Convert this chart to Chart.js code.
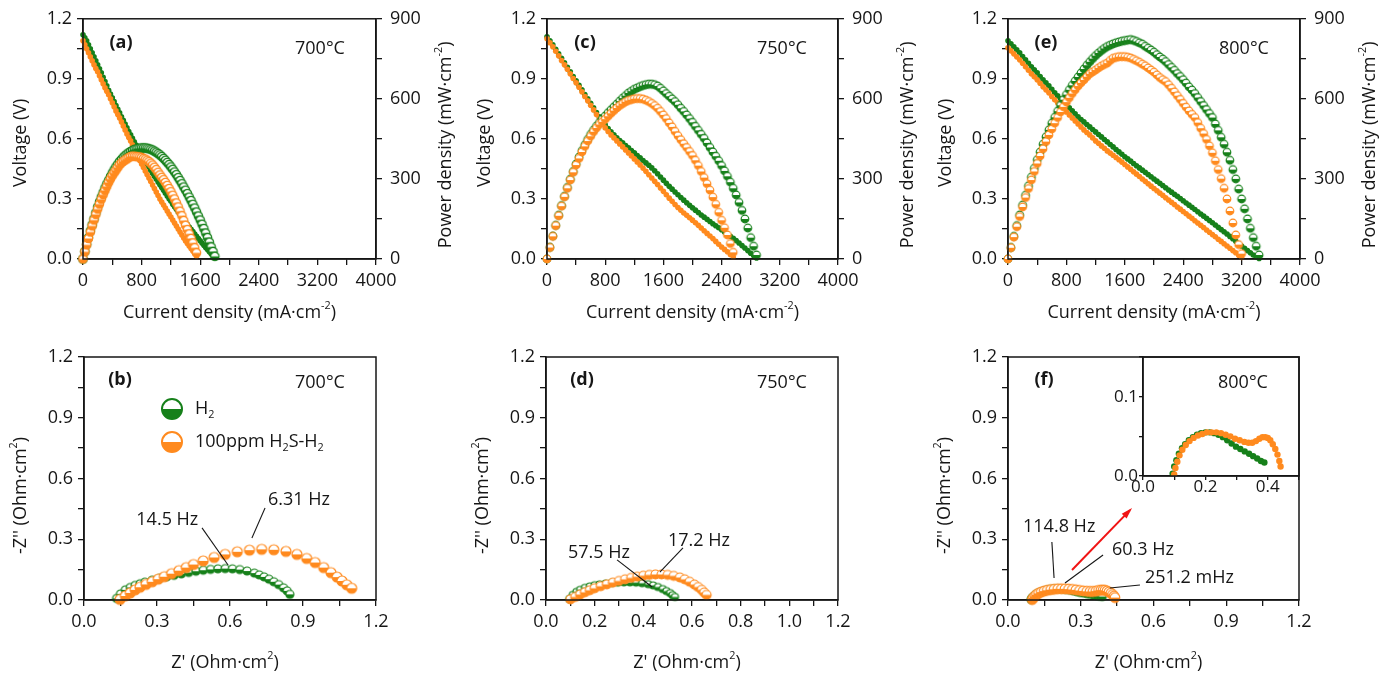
<!DOCTYPE html>
<html>
<head>
<meta charset="utf-8">
<script src="https://cdn.jsdelivr.net/npm/chart.js@4.4.1/dist/chart.umd.min.js"></script>
<style>
html,body{margin:0;padding:0;background:#fff;}
#page{position:relative;width:1396px;height:678px;overflow:hidden;background:#fff;}
canvas{position:absolute;}
</style>
</head>
<body>
<div id="page">
<canvas id="pa"></canvas>
<canvas id="pc"></canvas>
<canvas id="pe"></canvas>
<canvas id="pb"></canvas>
<canvas id="pd"></canvas>
<canvas id="pf"></canvas>
<canvas id="pfi"></canvas>
</div>
<script>
// ===== data: I-V-P curves (current mA/cm2, voltage V, power mW/cm2) =====
// 700 C
let cur700 = [
  0,25,50,75,100,125,150,175,200,225,
  250,275,300,325,350,375,400,425,450,475,
  500,525,550,575,600,625,650,675,700,725,
  750,775,800,825,850,875,900,925,950,975,
  1000,1025,1050,1075,1100,1125,1150,1175,1200,1225,
  1250,1275,1300,1325,1350,1375,1400,1425,1450,1475,
  1500,1525,1550,1575,1600,1625,1650,1675,1700,1725,
  1750,1775,1800];
let v700H2 = [
  1.12,1.105,1.09,1.07,1.05,1.03,1.01,0.99,0.97,0.95,
  0.93,0.908,0.887,0.865,0.843,0.824,0.805,0.786,0.767,0.748,
  0.73,0.711,0.693,0.674,0.655,0.637,0.62,0.603,0.586,0.569,
  0.552,0.536,0.52,0.504,0.489,0.474,0.459,0.444,0.429,0.414,
  0.40,0.385,0.371,0.357,0.343,0.329,0.315,0.301,0.288,0.274,
  0.261,0.248,0.235,0.222,0.209,0.196,0.184,0.172,0.16,0.148,
  0.137,0.125,0.114,0.102,0.091,0.08,0.069,0.058,0.047,0.036,
  0.026,0.016,0.006];
let p700H2 = [
  0,28,55,80,105,128,150,173,195,214,
  232,249,266,281,295,309,322,334,345,355,
  365,373,381,387,393,398,403,407,410,412,
  414,415,416,416,416,415,413,411,408,404,
  400,395,390,384,377,370,362,354,345,336,
  326,316,305,294,282,270,258,245,232,219,
  205,191,176,161,146,130,114,97,80,63,
  45,28,10];
let v700S = [
  1.09,1.07,1.05,1.03,1.01,0.99,0.97,0.952,0.935,0.915,
  0.895,0.875,0.855,0.838,0.82,0.80,0.78,0.76,0.74,0.722,
  0.705,0.685,0.665,0.645,0.625,0.607,0.59,0.57,0.55,0.53,
  0.51,0.492,0.475,0.457,0.44,0.422,0.405,0.387,0.37,0.352,
  0.335,0.317,0.30,0.285,0.27,0.255,0.24,0.225,0.21,0.195,
  0.18,0.165,0.15,0.135,0.12,0.105,0.09,0.077,0.065,0.052,
  0.04,0.027,0.015];
let p700S = [
  0,27,53,77,101,124,146,167,187,206,
  224,241,257,272,287,300,312,323,333,343,
  353,360,366,371,375,380,384,385,385,384,
  383,382,380,377,374,370,365,359,352,344,
  335,325,315,306,297,287,276,264,252,239,
  225,210,195,179,162,144,126,110,94,77,
  60,42,23];

// 750 C
let cur750 = [
  0,40,80,120,160,200,240,280,320,360,
  400,440,480,520,560,600,640,680,720,760,
  800,840,880,920,960,1000,1040,1080,1120,1160,
  1200,1240,1280,1320,1360,1400,1440,1480,1520,1560,
  1600,1640,1680,1720,1760,1800,1840,1880,1920,1960,
  2000,2040,2080,2120,2160,2200,2240,2280,2320,2360,
  2400,2440,2480,2520,2560,2600,2640,2680,2720,2760,
  2800,2840,2880];
let v750H2 = [
  1.11,1.09,1.07,1.048,1.025,1.003,0.98,0.958,0.935,0.912,
  0.89,0.868,0.845,0.822,0.80,0.778,0.755,0.732,0.71,0.69,
  0.67,0.652,0.635,0.62,0.605,0.592,0.58,0.567,0.555,0.542,
  0.53,0.517,0.505,0.492,0.48,0.468,0.455,0.441,0.426,0.41,
  0.394,0.378,0.363,0.349,0.335,0.321,0.307,0.294,0.281,0.268,
  0.256,0.244,0.232,0.22,0.209,0.198,0.187,0.176,0.166,0.156,
  0.146,0.135,0.125,0.114,0.104,0.092,0.08,0.067,0.055,0.042,
  0.029,0.017,0.005];
let p750H2 = [
  0,44,86,126,164,200,235,268,299,328,
  356,382,406,428,448,467,483,498,511,524,
  536,548,559,570,581,592,603,612,622,629,
  636,641,646,650,653,655,655,653,648,640,
  630,620,610,600,590,578,565,553,540,526,
  512,497,482,467,452,435,418,401,385,368,
  350,330,310,288,265,240,212,182,150,116,
  80,48,15];
let v750S = [
  1.10,1.08,1.06,1.038,1.015,0.992,0.97,0.948,0.925,0.902,
  0.88,0.858,0.835,0.812,0.79,0.768,0.745,0.722,0.70,0.677,
  0.655,0.637,0.62,0.605,0.59,0.575,0.56,0.545,0.53,0.515,
  0.50,0.485,0.47,0.454,0.438,0.421,0.405,0.388,0.372,0.355,
  0.338,0.321,0.304,0.288,0.272,0.257,0.243,0.23,0.218,0.206,
  0.194,0.181,0.168,0.155,0.141,0.128,0.115,0.102,0.088,0.074,
  0.06,0.048,0.036,0.023,0.01];
let p750S = [
  0,43,85,125,162,198,233,265,296,325,
  352,377,401,422,442,460,477,491,504,514,
  524,535,546,556,566,575,582,589,594,597,
  600,601,601,599,595,590,583,575,565,553,
  540,526,510,495,478,462,447,432,418,403,
  388,370,350,328,305,282,258,232,205,175,
  145,117,90,58,25];

// 800 C
let cur800 = [
  0,40,80,120,160,200,240,280,320,360,
  400,440,480,520,560,600,640,680,720,760,
  800,840,880,920,960,1000,1040,1080,1120,1160,
  1200,1240,1280,1320,1360,1400,1440,1480,1520,1560,
  1600,1640,1680,1720,1760,1800,1840,1880,1920,1960,
  2000,2040,2080,2120,2160,2200,2240,2280,2320,2360,
  2400,2440,2480,2520,2560,2600,2640,2680,2720,2760,
  2800,2840,2880,2920,2960,3000,3040,3080,3120,3160,
  3200,3240,3280,3320,3360,3400,3440];
let v800H2 = [
  1.09,1.075,1.06,1.045,1.03,1.012,0.995,0.978,0.96,0.945,
  0.93,0.912,0.895,0.88,0.865,0.848,0.83,0.815,0.80,0.785,
  0.77,0.755,0.74,0.725,0.71,0.697,0.685,0.672,0.66,0.647,
  0.635,0.622,0.61,0.597,0.585,0.572,0.56,0.547,0.535,0.523,
  0.511,0.5,0.489,0.477,0.466,0.455,0.444,0.433,0.422,0.411,
  0.40,0.389,0.378,0.367,0.356,0.345,0.334,0.323,0.313,0.302,
  0.291,0.28,0.269,0.258,0.247,0.236,0.225,0.214,0.203,0.192,
  0.181,0.17,0.158,0.147,0.136,0.125,0.113,0.101,0.089,0.077,
  0.065,0.053,0.042,0.031,0.02,0.011,0.003];
let p800H2 = [
  0,43,85,125,165,202,239,274,307,340,
  372,401,430,458,484,509,531,554,576,597,
  616,634,651,667,682,697,712,726,739,751,
  762,772,781,789,796,801,806,810,813,816,
  818,820,822,819,815,810,805,797,790,783,
  775,766,757,749,740,729,718,707,695,684,
  672,659,645,633,620,605,590,575,560,545,
  530,506,482,456,430,400,370,335,300,262,
  225,188,150,115,80,48,15];
let v800S = [
  1.055,1.04,1.025,1.01,0.995,0.978,0.96,0.943,0.925,0.91,
  0.895,0.878,0.86,0.845,0.83,0.812,0.795,0.78,0.765,0.75,
  0.735,0.72,0.705,0.69,0.675,0.66,0.645,0.632,0.62,0.605,
  0.59,0.578,0.565,0.553,0.54,0.529,0.518,0.507,0.496,0.484,
  0.472,0.46,0.448,0.436,0.424,0.412,0.4,0.388,0.376,0.364,
  0.352,0.341,0.329,0.318,0.306,0.295,0.283,0.272,0.26,0.249,
  0.237,0.226,0.214,0.203,0.191,0.18,0.168,0.157,0.145,0.134,
  0.122,0.111,0.099,0.088,0.076,0.065,0.054,0.042,0.031,0.019,
  0.008];
let p800S = [
  0,42,82,121,159,195,230,264,296,328,
  358,386,413,440,465,487,509,530,551,570,
  588,604,620,634,648,660,671,683,694,701,
  708,716,723,729,734,744,752,755,758,758,
  758,756,753,748,743,737,730,724,716,708,
  700,690,680,672,665,653,640,626,612,598,
  583,569,555,542,530,511,490,470,448,424,
  398,368,335,301,265,225,180,135,90,54,
  20];

// ===== data: impedance (Z' , -Z'' in Ohm cm2) =====
let z700H2re = [0.134,0.15,0.17,0.19,0.21,0.23,0.25,0.28,0.31,0.34,0.37,0.40,0.43,0.46,0.49,0.52,0.55,0.58,0.61,0.64,0.67,0.70,0.72,0.74,0.76,0.78,0.80,0.82,0.835,0.846];
let z700H2im = [0.008,0.03,0.05,0.062,0.072,0.08,0.088,0.098,0.107,0.115,0.122,0.129,0.136,0.142,0.147,0.151,0.154,0.155,0.154,0.15,0.143,0.133,0.124,0.114,0.103,0.09,0.076,0.06,0.045,0.028];
let z700Sre = [0.148,0.17,0.19,0.21,0.23,0.255,0.28,0.305,0.33,0.36,0.39,0.42,0.45,0.49,0.535,0.58,0.63,0.68,0.73,0.78,0.83,0.875,0.915,0.95,0.985,1.015,1.04,1.06,1.08,1.1];
let z700Sim = [0.003,0.02,0.035,0.05,0.063,0.077,0.09,0.103,0.115,0.13,0.145,0.16,0.175,0.193,0.21,0.225,0.238,0.246,0.25,0.248,0.24,0.225,0.205,0.185,0.16,0.135,0.113,0.094,0.075,0.058];

let z750H2re = [0.096,0.11,0.125,0.14,0.16,0.18,0.2,0.22,0.245,0.27,0.295,0.32,0.345,0.37,0.395,0.42,0.44,0.46,0.48,0.495,0.51,0.52,0.53];
let z750H2im = [0.005,0.025,0.04,0.05,0.06,0.067,0.073,0.077,0.081,0.084,0.086,0.087,0.087,0.086,0.083,0.078,0.072,0.064,0.054,0.044,0.034,0.024,0.015];
let z750Sre = [0.1,0.12,0.14,0.16,0.18,0.2,0.225,0.25,0.275,0.3,0.325,0.35,0.375,0.4,0.425,0.45,0.475,0.5,0.525,0.55,0.57,0.59,0.61,0.625,0.64,0.65,0.66];
let z750Sim = [0.003,0.015,0.027,0.038,0.048,0.058,0.068,0.077,0.086,0.094,0.102,0.109,0.115,0.12,0.124,0.126,0.126,0.124,0.119,0.111,0.102,0.09,0.076,0.064,0.05,0.037,0.025];

let z800H2re = [0.095,0.1,0.107,0.115,0.125,0.135,0.147,0.16,0.173,0.186,0.2,0.214,0.228,0.242,0.256,0.27,0.284,0.298,0.312,0.326,0.34,0.353,0.366,0.378,0.389];
let z800H2im = [0.003,0.012,0.02,0.028,0.035,0.04,0.045,0.049,0.052,0.054,0.055,0.055,0.054,0.052,0.049,0.045,0.041,0.037,0.034,0.031,0.028,0.025,0.022,0.019,0.017];
let z800Sre = [0.1,0.104,0.11,0.117,0.126,0.137,0.149,0.162,0.176,0.19,0.205,0.22,0.235,0.25,0.265,0.28,0.295,0.31,0.325,0.338,0.35,0.362,0.373,0.383,0.392,0.4,0.408,0.416,0.424,0.431,0.437,0.441];
let z800Sim = [0.002,0.01,0.018,0.026,0.033,0.039,0.044,0.048,0.051,0.053,0.055,0.055,0.055,0.054,0.052,0.05,0.047,0.045,0.043,0.042,0.042,0.044,0.047,0.049,0.049,0.048,0.045,0.04,0.034,0.027,0.019,0.012];

// ===== style =====
const GREEN = '#16801a';
const ORANGE = '#ff8a1e';
const INK = '#161616';
const FONT = "'Open Sans', sans-serif";

Chart.defaults.font.family = FONT;

function pts(xs, ys){
  return ys.map((y, i) => ({x: xs[i], y: y}));
}

// half filled circle marker (top white, bottom colored)
function halfDot(color, r, lw){
  let c = document.createElement('canvas');
  let s = Math.ceil(2*r + 4);
  c.width = s; c.height = s;
  let g = c.getContext('2d');
  let m = s/2;
  g.beginPath(); g.arc(m, m, r, 0, Math.PI*2); g.fillStyle = '#fff'; g.fill();
  g.beginPath(); g.arc(m, m, r, 0, Math.PI); g.closePath(); g.fillStyle = color; g.fill();
  g.beginPath(); g.arc(m, m, r, 0, Math.PI*2); g.strokeStyle = color; g.lineWidth = lw || 1.2; g.stroke();
  return c;
}

function tickCb(major, dec){
  return function(v){
    let k = v / major;
    return Math.abs(k - Math.round(k)) < 1e-6 ? v.toFixed(dec) : '';
  };
}

function axis(pos, min, max, step, major, dec, size, pad, fs, tl){
  let vert = (pos === 'left' || pos === 'right');
  return {
    type: 'linear', position: pos, min: min, max: max,
    afterFit: s => { if(vert) s.width = size; else s.height = size; },
    ticks: {stepSize: step, autoSkip: false, maxRotation: 0, color: INK, padding: pad,
            font: {family: FONT, size: fs || 18}, callback: tickCb(major, dec)},
    grid: {drawOnChartArea: false, drawTicks: true, tickLength: tl || 6, color: INK, lineWidth: 1.3},
    border: {display: true, color: INK, width: 1.5}
  };
}

// text with sup / sub parts: [text, 0|1|-1]
function drawRich(ctx, parts, x, y, size, align, bold){
  let fn = s => (bold ? 'bold ' : '') + s + 'px ' + FONT;
  let w = 0;
  parts.forEach(p => { ctx.font = fn(p[1] ? size*0.6 : size); w += ctx.measureText(p[0]).width; });
  let cx = align === 'center' ? x - w/2 : (align === 'right' ? x - w : x);
  ctx.textAlign = 'left';
  ctx.textBaseline = 'middle';
  ctx.fillStyle = INK;
  parts.forEach(p => {
    let s = p[1] ? size*0.6 : size;
    ctx.font = fn(s);
    let dy = p[1] === 1 ? -size*0.4 : (p[1] === -1 ? size*0.32 : 0);
    ctx.fillText(p[0], cx, y + dy);
    cx += ctx.measureText(p[0]).width;
  });
}

function anchor(a, t){
  let x = t.ax === 'left' ? a.left : (t.ax === 'right' ? a.right : (a.left + a.right)/2);
  let y = t.ay === 'top' ? a.top : (t.ay === 'bottom' ? a.bottom : (a.top + a.bottom)/2);
  return [x + (t.dx || 0), y + (t.dy || 0)];
}

// frame, titles, labels, notes, legend
const deco = {
  id: 'deco',
  afterDraw(chart, args, o){
    let ctx = chart.ctx, a = chart.chartArea, sx = chart.scales.x, sy = chart.scales.y;
    ctx.save();
    ctx.strokeStyle = INK; ctx.lineWidth = 1.5;
    ctx.strokeRect(a.left, a.top, a.right - a.left, a.bottom - a.top);

    (o.lines || []).forEach(l => {
      let x1 = sx.getPixelForValue(l[0]), y1 = sy.getPixelForValue(l[1]);
      let x2 = sx.getPixelForValue(l[2]), y2 = sy.getPixelForValue(l[3]);
      ctx.strokeStyle = l[4] || INK; ctx.lineWidth = l[4] ? 2 : 1.1;
      ctx.beginPath(); ctx.moveTo(x1, y1); ctx.lineTo(x2, y2); ctx.stroke();
      if(l[4]){
        let ang = Math.atan2(y2 - y1, x2 - x1);
        ctx.fillStyle = l[4];
        ctx.beginPath();
        ctx.moveTo(x2 + 3*Math.cos(ang), y2 + 3*Math.sin(ang));
        ctx.lineTo(x2 - 9*Math.cos(ang - 0.38), y2 - 9*Math.sin(ang - 0.38));
        ctx.lineTo(x2 - 9*Math.cos(ang + 0.38), y2 - 9*Math.sin(ang + 0.38));
        ctx.closePath(); ctx.fill();
      }
    });

    (o.notes || []).forEach(n => {
      drawRich(ctx, n.p, sx.getPixelForValue(n.x), sy.getPixelForValue(n.y), 18, 'left', false);
    });

    (o.texts || []).forEach(t => {
      let xy = anchor(a, t);
      if(t.rot){
        ctx.save(); ctx.translate(xy[0], xy[1]); ctx.rotate(-Math.PI/2);
        drawRich(ctx, t.p, 0, 0, t.size || 18, 'center', t.bold);
        ctx.restore();
      } else {
        drawRich(ctx, t.p, xy[0], xy[1], t.size || 18, t.align || 'center', t.bold);
      }
    });

    (o.keys || []).forEach(k => {
      let xy = anchor(a, k);
      ctx.drawImage(k.img, xy[0] - k.img.width/2, xy[1] - k.img.height/2);
      drawRich(ctx, k.p, xy[0] + 23, xy[1], 18, 'left', false);
    });
    ctx.restore();
  }
};
Chart.register(deco);

function place(id, left, top, w, h){
  let el = document.getElementById(id);
  el.width = w; el.height = h;
  el.style.left = left + 'px'; el.style.top = top + 'px';
  el.style.width = w + 'px'; el.style.height = h + 'px';
  return el;
}

const basePlugins = {legend: {display: false}, tooltip: {enabled: false}};

// ================= I-V-P PANELS =================
function ivPanel(id, left, c, cur, vH, pH, vS, pS, tag, temp, r){
  let el = place(id, left, 0, c.w, 330);
  new Chart(el, {
    type: 'scatter',
    data: {datasets: [
      {data: pts(cur, vH), yAxisID: 'y', pointStyle: 'circle', pointRadius: 2.8, backgroundColor: GREEN, borderWidth: 0, order: 4, clip: 8},
      {data: pts(cur, vS), yAxisID: 'y', pointStyle: 'circle', pointRadius: 2.8, backgroundColor: ORANGE, borderWidth: 0, order: 3, clip: 8},
      {data: pts(cur, pH), yAxisID: 'y1', pointStyle: halfDot(GREEN, r), order: 2, clip: 8},
      {data: pts(cur, pS), yAxisID: 'y1', pointStyle: halfDot(ORANGE, r), order: 1, clip: 8}
    ]},
    options: {
      responsive: false, animation: false, events: [],
      layout: {padding: {top: 16, left: 0, right: 0, bottom: 0}},
      scales: {
        x: axis('bottom', 0, 4000, 400, 800, 0, 71, 5),
        y: axis('left', 0, 1.2, 0.15, 0.3, 1, c.yw, 5),
        y1: axis('right', 0, 900, 150, 300, 0, c.y1w, 8)
      },
      plugins: Object.assign({}, basePlugins, {deco: {texts: [
        {p: [[tag, 0]], ax: 'left', dx: 38, ay: 'top', dy: 24, bold: true},
        {p: [[temp, 0]], ax: 'right', dx: -56, ay: 'top', dy: 30},
        {p: [['Voltage (V)', 0]], ax: 'left', dx: -62, ay: 'mid', dy: 4, rot: true},
        {p: [['Power density (mW·cm', 0], ['-2', 1], [')', 0]], ax: 'right', dx: 70, ay: 'mid', dy: 6, rot: true},
        {p: [['Current density (mA·cm', 0], ['-2', 1], [')', 0]], ax: 'mid', dx: 0, ay: 'bottom', dy: 54}
      ]}})
    }
  });
}

ivPanel('pa', 0, {w: 465, yw: 83, y1w: 89}, cur700, v700H2, p700H2, v700S, p700S, '(a)', '700°C', 4.2);
ivPanel('pc', 465, {w: 465, yw: 82, y1w: 92}, cur750, v750H2, p750H2, v750S, p750S, '(c)', '750°C', 3.8);
ivPanel('pe', 930, {w: 466, yw: 78, y1w: 96}, cur800, v800H2, p800H2, v800S, p800S, '(e)', '800°C', 3.8);

// ================= IMPEDANCE PANELS =================
function eisPanel(id, left, c, hre, him, sre, sim, xStep, xMajor, deco){
  let el = place(id, left, 330, c.w, 348);
  let texts = [
    {p: [[c.tag, 0]], ax: 'left', dx: 36, ay: 'top', dy: 23, bold: true},
    {p: [["-Z'' (Ohm·cm", 0], ['2', 1], [')', 0]], ax: 'left', dx: -63, ay: 'mid', dy: 17, rot: true},
    {p: [["Z' (Ohm·cm", 0], ['2', 1], [')', 0]], ax: 'mid', dx: -5, ay: 'bottom', dy: 63}
  ];
  if(c.temp) texts.push({p: [[c.temp, 0]], ax: 'right', dx: -56, ay: 'top', dy: 26});
  new Chart(el, {
    type: 'scatter',
    data: {datasets: [
      {data: pts(hre, him), pointStyle: halfDot(GREEN, c.rg), order: 2, clip: 8},
      {data: pts(sre, sim), pointStyle: halfDot(ORANGE, c.ro), order: 1, clip: 8}
    ]},
    options: {
      responsive: false, animation: false, events: [],
      layout: {padding: {top: 27, left: 0, right: c.pr, bottom: 0}},
      scales: {
        x: axis('bottom', 0, 1.2, xStep, xMajor, 1, 78, 5),
        y: axis('left', 0, 1.2, 0.15, 0.3, 1, c.yw, 5)
      },
      plugins: Object.assign({}, basePlugins, {deco: Object.assign({texts: texts}, deco)})
    }
  });
}

eisPanel('pb', 0, {w: 465, yw: 84, pr: 89, tag: '(b)', temp: '700°C', rg: 4, ro: 5}, z700H2re, z700H2im, z700Sre, z700Sim, 0.15, 0.3, {
  notes: [{p: [['14.5 Hz', 0]], x: 0.215, y: 0.395}, {p: [['6.31 Hz', 0]], x: 0.756, y: 0.494}],
  lines: [[0.485, 0.356, 0.592, 0.173], [0.744, 0.454, 0.69, 0.306]],
  keys: [
    {img: halfDot(GREEN, 10, 2), ax: 'left', dx: 88, ay: 'top', dy: 52, p: [['H', 0], ['2', -1]]},
    {img: halfDot(ORANGE, 10, 2), ax: 'left', dx: 88, ay: 'top', dy: 85, p: [['100ppm H', 0], ['2', -1], ['S-H', 0], ['2', -1]]}
  ]
});

eisPanel('pd', 465, {w: 465, yw: 81, pr: 92, tag: '(d)', temp: '750°C', rg: 3.5, ro: 4.5}, z750H2re, z750H2im, z750Sre, z750Sim, 0.1, 0.2, {
  notes: [{p: [['57.5 Hz', 0]], x: 0.09, y: 0.232}, {p: [['17.2 Hz', 0]], x: 0.501, y: 0.291}],
  lines: [[0.292, 0.198, 0.436, 0.064], [0.563, 0.257, 0.468, 0.138]]
});

eisPanel('pf', 930, {w: 466, yw: 78, pr: 97, tag: '(f)', temp: '800°C', rg: 4, ro: 4.8}, z800H2re, z800H2im, z800Sre, z800Sim, 0.15, 0.3, {
  notes: [{p: [['114.8 Hz', 0]], x: 0.062, y: 0.36}, {p: [['60.3 Hz', 0]], x: 0.429, y: 0.247}, {p: [['251.2 mHz', 0]], x: 0.565, y: 0.109}],
  lines: [[0.181, 0.286, 0.19, 0.109], [0.392, 0.222, 0.235, 0.084], [0.544, 0.074, 0.42, 0.059], [0.264, 0.148, 0.503, 0.444, '#f01414']]
});

// inset of (f)
let inEl = place('pfi', 1095, 340, 215, 170);
new Chart(inEl, {
  type: 'scatter',
  data: {datasets: [
    {data: pts(z800H2re, z800H2im), pointStyle: 'circle', pointRadius: 3.2, backgroundColor: GREEN, borderWidth: 0, order: 2},
    {data: pts(z800Sre, z800Sim), pointStyle: 'circle', pointRadius: 3.2, backgroundColor: ORANGE, borderWidth: 0, order: 1}
  ]},
  options: {
    responsive: false, animation: false, events: [],
    layout: {padding: {top: 17, left: 0, right: 11, bottom: 0}},
    scales: {
      x: axis('bottom', 0, 0.5, 0.1, 0.2, 1, 34, -3, 17, 4),
      y: axis('left', 0, 0.15, 0.05, 0.1, 1, 48, 1, 17, 4)
    },
    plugins: Object.assign({}, basePlugins, {deco: {}})
  }
});
</script>
</body>
</html>
